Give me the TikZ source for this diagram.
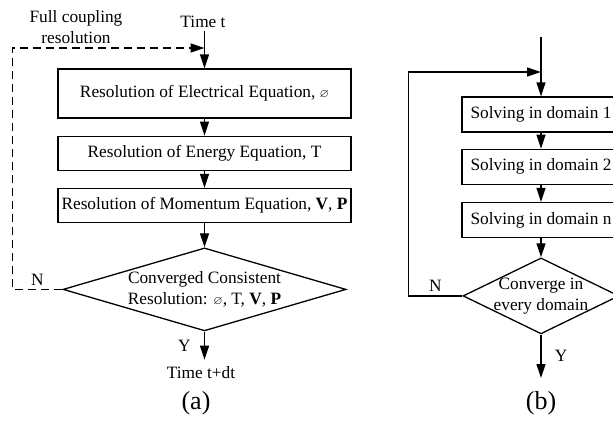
\documentclass[tikz,border=0pt]{standalone}
\usepackage{fontspec}
\setmainfont{Liberation Serif}
\usepackage{amssymb}
\usetikzlibrary{arrows.meta, shapes.geometric, positioning}

\begin{document}
\begin{tikzpicture}[
  x=1pt, y=-1pt,
  >={Triangle[length=14pt, width=9pt]},
  font=\fontsize{17.3}{21}\selectfont,
  stepbox/.style={
    rectangle, draw, line width=1.3pt, minimum height=34pt,
    inner sep=2pt, align=center
  },
  widebox/.style={stepbox, minimum width=293pt},
  narrowbox/.style={stepbox, minimum width=158pt},
  decision/.style={diamond, draw, line width=1.3pt, inner sep=0pt, align=center},
  flow/.style={->, line width=1.3pt},
  loopflow/.style={flow, dash pattern=on 8pt off 5pt},
  caption/.style={font=\fontsize{26}{28}\selectfont}
]
\path[use as bounding box] (0,0) rectangle (613,423);
\clip (0,0) rectangle (613,423);

% (a) full coupling
\node (tin) at (203,22) {Time t};
\node[align=center] (fullnote) at (76,27.5) {Full coupling\\resolution};
\node[widebox, minimum height=49pt] (elec) at (204.5,93.5)
  {Resolution of Electrical Equation, {\fontsize{12}{12}\selectfont$\varnothing$}};
\node[widebox, below=17pt of elec] (energy) {Resolution of Energy Equation, T};
\node[widebox, below=17pt of energy] (momentum)
  {Resolution of Momentum Equation, \textbf{V}, \textbf{P}};
\node[decision, aspect=3.4, minimum width=283pt, minimum height=83pt,
  below=24pt of momentum] (conv)
  {Converged Consistent\\Resolution: {\fontsize{12}{12}\selectfont$\varnothing$}, T, \textbf{V}, \textbf{P}};
\node[inner ysep=7pt] (tout) at (201,373) {Time t+dt};
\node[caption] (capa) at (196,403) {(a)};
\coordinate (merge) at (204.5,48);

\draw[flow] (tin.south -| elec) -- (elec);
\draw[flow] (elec) -- (energy);
\draw[flow] (energy) -- (momentum);
\draw[flow] (momentum) -- (conv);
\draw[flow] (conv) -- (conv |- tout.north) node[midway, left=10pt] {Y};
\draw[loopflow] (conv.west) -- node[above] {N} ++(-50,0) |- (merge);

% (b) domain by domain
\coordinate (bin) at (541,37);
\coordinate (merge2) at (541,72);
\coordinate (bend) at (541,378);
\node[narrowbox, minimum height=35pt] (dom1) at (541,114.5) {Solving in domain 1};
\node[narrowbox, minimum height=35pt, below=16pt of dom1] (dom2) {Solving in domain 2};
\node[narrowbox, minimum height=35pt, below=17pt of dom2] (domn) {Solving in domain n};
\node[decision, aspect=2.05, inner sep=-2.5pt, minimum width=156pt, minimum height=76pt,
  below=19pt of domn] (every) {Converge in\\every domain};
\node[caption] (capb) at (541,403) {(b)};

\draw[flow] (bin) -- (dom1);
\draw[flow] (dom1) -- (dom2);
\draw[flow] (dom2) -- (domn);
\draw[flow] (domn) -- (every);
\draw[flow] (every) -- (bend) node[midway, right=10pt] {Y};
\draw[flow] (every.west) -- node[above] {N} ++(-54,0) |- (merge2);
\end{tikzpicture}
\end{document}
